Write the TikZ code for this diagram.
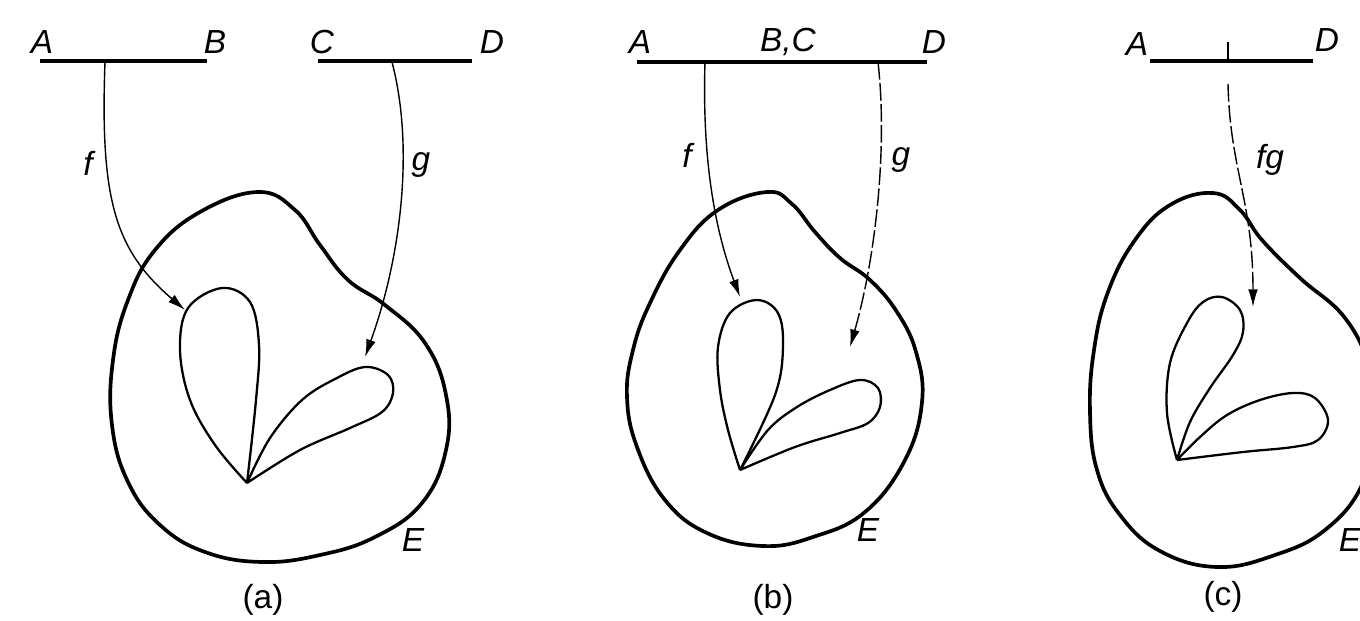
\documentclass[tikz,border=0pt]{standalone}
\usepackage{fontspec}
\setmainfont{Liberation Sans}
\usetikzlibrary{arrows.meta}
\tikzset{
  seg/.style={line width=2pt},
  outer/.style={line width=2.1pt},
  inner/.style={line width=1.3pt},
  arr/.style={line width=0.8pt,-{Latex[length=10pt,width=5.5pt]}},
  darr/.style={arr,dash pattern=on 10pt off 2pt},
  lab/.style={font=\fontsize{19}{21}\selectfont\itshape,inner sep=0pt},
  subcap/.style={font=\fontsize{19}{21}\selectfont,inner sep=0pt}
}
\begin{document}
\begin{tikzpicture}[x=0.02cm,y=-0.02cm]
\useasboundingbox (0,0) rectangle (1360,620);
\clip (0,0) rectangle (1360,620);
% ---------- (a)
\coordinate (a1) at (40,61); \coordinate (a2) at (207,61);
\coordinate (c1) at (318,61); \coordinate (c2) at (472,61);
\draw[seg] (a1) -- (a2);
\draw[seg] (c1) -- (c2);
\node[lab] (lA) at (42,42) {A};
\node[lab] (lB) at (215,42) {B};
\node[lab] (lC) at (322,42) {C};
\node[lab] (lD) at (492,42) {D};
\draw[outer] plot[smooth cycle,tension=0.7] coordinates {(258,192) (295,210) (320,245) (348,280) (385,305) (425,343) (446,395) (446,450) (422,503) (375,537) (320,555) (262,562) (205,552) (160,525) (128,482) (112,425) (113,360) (128,300) (155,250) (200,212)};
\draw[inner] plot[smooth,tension=0.6] coordinates {(247,483) (215,445) (190,400) (180,350) (188,308) (222,288) (250,302) (259,345) (256,400) (247,483)};
\draw[inner] plot[smooth,tension=0.6] coordinates {(247,483) (270,438) (302,400) (335,379) (365,367) (388,375) (393,393) (382,412) (350,428) (300,450) (247,483)};
\coordinate (fs) at (105,62); \coordinate (ft) at (185,310);
\coordinate (gs) at (392,62); \coordinate (gt) at (365,357);
\draw[arr] (fs) .. controls (100,200) and (115,250) .. (ft);
\draw[arr] (gs) .. controls (415,150) and (400,260) .. (gt);
\node[lab] (lf) at (88,163) {f};
\node[lab] (lg) at (421,165) {g};
\node[lab] (lE) at (413,540) {E};
\node[subcap] (ca) at (263,600) {(a)};
% ---------- (b)
\coordinate (b1) at (637,62); \coordinate (b2) at (927,62);
\draw[seg] (b1) -- (b2);
\node[lab] (bA) at (640,42) {A};
\node[lab] (bBC) at (788,42) {B,C};
\node[lab] (bD) at (934,42) {D};
\draw[outer] plot[smooth cycle,tension=0.7] coordinates {(767,192) (792,204) (815,232) (840,258) (870,280) (897,312) (916,352) (922,402) (905,460) (865,512) (813,537) (763,546) (707,533) (665,500) (637,447) (627,397) (633,350) (650,303) (680,250) (718,210)};
\draw[inner] plot[smooth,tension=0.6] coordinates {(740,470) (728,430) (720,390) (718,347) (730,313) (757,300) (778,313) (783,347) (775,395) (740,470)};
\draw[inner] plot[smooth,tension=0.6] coordinates {(740,470) (768,430) (797,407) (830,390) (860,380) (878,388) (880,407) (868,423) (840,433) (795,447) (740,470)};
\coordinate (bfs) at (705,62); \coordinate (bft) at (740,297);
\coordinate (bgs) at (878,62); \coordinate (bgt) at (850,347);
\draw[arr] (bfs) .. controls (702,160) and (715,230) .. (bft);
\draw[darr] (bgs) .. controls (888,150) and (875,260) .. (bgt);
\node[lab] (bf) at (687,155) {f};
\node[lab] (bg) at (901,160) {g};
\node[lab] (bE) at (868,530) {E};
\node[subcap] (cb) at (773,600) {(b)};
% ---------- (c)
\coordinate (d1) at (1150,61); \coordinate (d2) at (1313,61);
\draw[seg] (d1) -- (d2);
\coordinate (tk1) at (1228,42); \coordinate (tk2) at (1228,61);
\draw[line width=0.8pt] (tk1) -- (tk2);
\node[lab] (cA) at (1137,44) {A};
\node[lab] (cD) at (1327,40) {D};
\draw[outer] plot[smooth cycle,tension=0.7] coordinates {(1213,193) (1240,210) (1262,240) (1300,278) (1345,318) (1370,370) (1375,425) (1362,485) (1325,530) (1275,555) (1217,567) (1160,551) (1120,515) (1097,470) (1090,412) (1094,350) (1108,292) (1135,240) (1170,205)};
\draw[inner] plot[smooth,tension=0.6] coordinates {(1177,460) (1167,413) (1170,363) (1187,323) (1203,302) (1222,297) (1240,310) (1243,332) (1233,355) (1210,388) (1190,422) (1177,460)};
\draw[inner] plot[smooth,tension=0.6] coordinates {(1177,460) (1200,437) (1227,415) (1260,400) (1293,393) (1315,398) (1328,420) (1318,440) (1293,447) (1243,452) (1177,460)};
\coordinate (fgs) at (1228,84); \coordinate (fgt) at (1253,307);
\draw[darr] (fgs) .. controls (1230,170) and (1253,200) .. (fgt);
\node[lab] (cfg) at (1270,160) {fg};
\node[lab] (cE) at (1350,540) {E};
\node[subcap] (cc) at (1223,597) {(c)};
\end{tikzpicture}
\end{document}
